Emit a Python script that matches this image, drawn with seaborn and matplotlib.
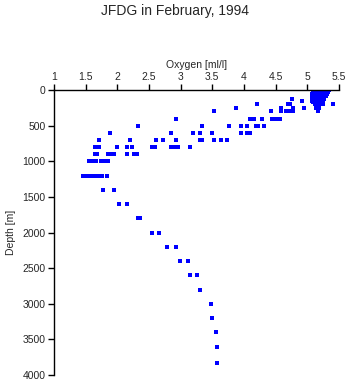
import matplotlib
matplotlib.use("Agg")
import matplotlib.pyplot as plt
import seaborn as sns
import pandas as pd

# Deep profile
deep_oxygen = [1.78, 1.95, 2.03, 2.16, 2.32, 2.36, 2.54, 2.65, 2.79, 2.93, 2.99, 3.11,
               3.14, 3.25, 3.30, 3.48, 3.50, 3.55, 3.57, 3.57]
deep_depth = [1400, 1400, 1600, 1600, 1800, 1800, 2000, 2000, 2200, 2200, 2400, 2400,
              2600, 2600, 2800, 3000, 3200, 3400, 3600, 3830]

# Intermediate rows
mid_oxygen = [1.46, 1.49, 1.52, 1.55, 1.57, 1.60, 1.63, 1.66, 1.69, 1.72, 1.75, 1.84,
              1.56, 1.60, 1.67, 1.74, 1.81, 1.86,
              1.64, 1.68, 1.86, 1.89, 1.95, 2.16, 2.26, 2.31,
              1.64, 1.71, 2.00, 2.16, 2.23, 2.54, 2.59, 2.84, 2.90, 2.96, 3.14,
              1.71, 2.20, 2.61, 2.72, 2.92, 3.31, 3.34, 3.53, 3.64, 3.73,
              1.89, 2.85, 3.20, 3.30, 3.50, 3.95, 4.04, 4.10,
              2.32, 3.34, 3.77, 3.96, 4.04, 4.19, 4.22, 4.32,
              2.92, 4.09, 4.15, 4.28, 4.44, 4.48, 4.53, 4.57,
              3.52, 4.42, 4.58, 4.66, 4.72, 4.78, 5.17,
              3.88, 4.59, 4.78, 4.94, 5.14, 5.19,
              4.21, 4.69, 4.72, 5.12, 5.16, 5.20, 5.24, 5.40,
              4.91, 4.75]
mid_depth = [1200] * 12 + [1000] * 6 + [900] * 8 + [800] * 11 + [700] * 10 + \
            [600] * 8 + [500] * 8 + [400] * 8 + [300] * 7 + [250] * 6 + [200] * 8 + \
            [150, 130]

# Near-surface cluster
surf_oxygen = [5.10, 5.15, 5.20, 5.25, 5.30, 5.34,
               5.09, 5.13, 5.18, 5.22, 5.27, 5.32,
               5.08, 5.12, 5.17, 5.21, 5.26, 5.31,
               5.07, 5.11, 5.16, 5.20, 5.24, 5.29,
               5.08, 5.12, 5.15, 5.19, 5.23, 5.27,
               5.07, 5.10, 5.14, 5.18, 5.22, 5.26,
               5.08, 5.12, 5.16, 5.20, 5.24,
               5.09, 5.13, 5.17, 5.21, 5.25,
               5.12, 5.17, 5.22, 5.28, 5.11, 5.19, 5.24, 5.29,
               5.10, 5.16, 5.21, 5.25]
surf_depth = [5] * 6 + [30] * 6 + [55] * 6 + [80] * 6 + [105] * 6 + [130] * 6 + \
             [155] * 5 + [175] * 5 + [18] * 4 + [42] * 4 + [92] * 4

oxygen = deep_oxygen + mid_oxygen + surf_oxygen
depth = deep_depth + mid_depth + surf_depth
df = pd.DataFrame({"oxygen": oxygen, "depth": depth})

x_ticks = [1, 1.5, 2, 2.5, 3, 3.5, 4, 4.5, 5, 5.5]
y_ticks = [0, 500, 1000, 1500, 2000, 2500, 3000, 3500, 4000]

sns.set_style("white")
plt.rcParams["font.family"] = ["Liberation Sans", "DejaVu Sans"]

fig = plt.figure(figsize=(3.5, 3.84), dpi=100)
ax = fig.add_axes([54 / 350, 1 - 375 / 384, (339 - 54) / 350, (375 - 90) / 384])

sns.scatterplot(data=df, x="oxygen", y="depth", ax=ax, marker="s", s=5.5,
                color="#0000ff", linewidth=0, legend=False)

ax.set_xlim(1, 5.5)
ax.set_ylim(4000, 0)
ax.set_xticks(x_ticks)
ax.set_xticklabels([f"{t:g}" for t in x_ticks])
ax.set_yticks(y_ticks)
ax.set_yticklabels([str(t) for t in y_ticks])
ax.xaxis.tick_top()
ax.xaxis.set_label_position("top")
ax.set_xlabel("Oxygen [ml/l]", fontsize=7.5, labelpad=3)
ax.set_ylabel("Depth [m]", fontsize=7.5, labelpad=5)
ax.tick_params(axis="both", labelsize=7.5, direction="out", length=4, width=1,
               color="black", pad=2)
ax.tick_params(axis="x", top=True, bottom=False)
ax.tick_params(axis="y", left=True)

for side in ["right", "bottom"]:
    ax.spines[side].set_visible(False)
for side in ["top", "left"]:
    ax.spines[side].set_visible(True)
    ax.spines[side].set_color("black")
    ax.spines[side].set_linewidth(1)

fig.text(0.5, 1 - 11 / 384, "JFDG in February, 1994", ha="center", va="center",
         fontsize=10)

fig.savefig("out.png", dpi=100)
